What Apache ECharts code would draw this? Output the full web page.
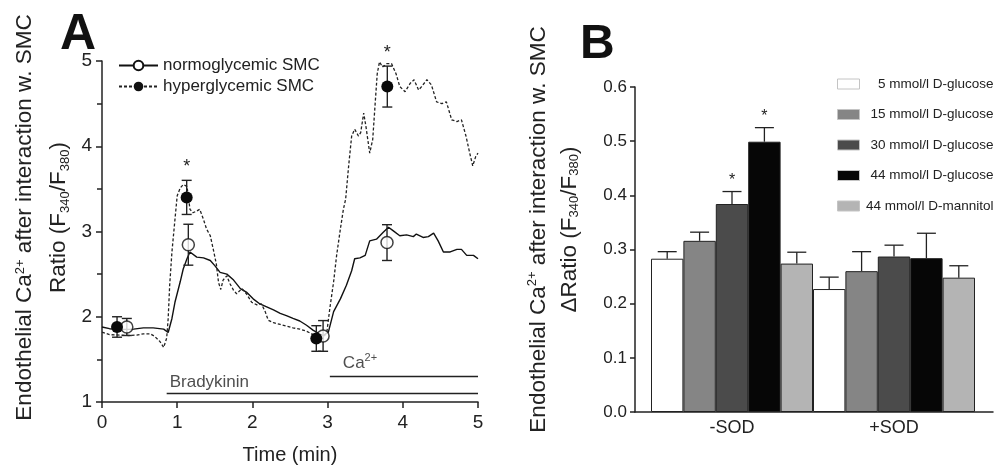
<!DOCTYPE html>
<html>
<head>
<meta charset="utf-8">
<script src="https://cdn.jsdelivr.net/npm/echarts@6/dist/echarts.min.js"></script>
<style>
  html, body { margin: 0; padding: 0; background: #fff; }
  #main { width: 997px; height: 470px; }
</style>
</head>
<body>
<div id="main"></div>
<script>
const FONT = '"Liberation Sans", Arial, sans-serif'
const INK = '#222'

// ---- panel A : Ca2+ traces (time in min, ratio F340/F380)
const normoName = 'normoglycemic SMC'
const hyperName = 'hyperglycemic SMC'
const normoTrace = [[0,1.88],[0.1,1.86],[0.24,1.85],[0.42,1.855],[0.55,1.87],[0.68,1.87],[0.82,1.855],[0.88,1.815],
  [0.93,1.98],[0.97,2.17],[1.04,2.41],[1.08,2.56],[1.13,2.68],[1.17,2.76],[1.26,2.70],[1.35,2.69],[1.44,2.66],
  [1.5,2.60],[1.57,2.52],[1.66,2.50],[1.75,2.43],[1.84,2.33],[1.92,2.29],[2.01,2.21],[2.10,2.15],[2.19,2.115],
  [2.28,2.08],[2.37,2.04],[2.46,2.01],[2.54,1.98],[2.63,1.95],[2.72,1.90],[2.81,1.84],[2.94,1.78],[3.01,1.82],
  [3.08,2.06],[3.17,2.21],[3.25,2.37],[3.32,2.54],[3.36,2.68],[3.43,2.69],[3.50,2.72],[3.56,2.89],[3.65,2.91],
  [3.74,2.99],[3.81,3.05],[3.87,3.01],[3.96,2.95],[4.05,2.96],[4.14,2.94],[4.18,2.97],[4.27,2.93],[4.34,2.94],
  [4.41,2.98],[4.47,2.89],[4.54,2.76],[4.63,2.76],[4.72,2.79],[4.78,2.79],[4.85,2.72],[4.94,2.72],[5.0,2.68]]
const hyperTrace = [[0,1.82],[0.1,1.79],[0.24,1.785],[0.37,1.78],[0.46,1.785],[0.55,1.80],[0.64,1.80],[0.70,1.77],
  [0.77,1.71],[0.82,1.64],[0.86,1.75],[0.88,1.98],[0.90,2.37],[0.93,2.76],[0.97,3.14],[1.0,3.42],[1.04,3.51],
  [1.08,3.55],[1.13,3.53],[1.17,3.26],[1.21,3.22],[1.26,3.24],[1.30,3.26],[1.35,3.14],[1.39,3.03],[1.44,2.95],
  [1.48,2.79],[1.52,2.62],[1.55,2.40],[1.58,2.32],[1.61,2.43],[1.66,2.48],[1.70,2.39],[1.75,2.31],[1.79,2.27],
  [1.86,2.33],[1.92,2.27],[1.99,2.17],[2.06,2.14],[2.12,2.15],[2.17,2.06],[2.21,1.96],[2.28,1.93],[2.37,1.91],
  [2.46,1.89],[2.54,1.87],[2.63,1.855],[2.72,1.83],[2.81,1.79],[2.86,1.77],[2.94,1.75],[2.99,1.82],[3.03,2.10],
  [3.08,2.41],[3.12,2.72],[3.17,3.03],[3.21,3.26],[3.24,3.38],[3.28,3.77],[3.32,4.12],[3.36,4.20],[3.41,4.12],
  [3.44,4.16],[3.48,4.39],[3.51,4.23],[3.56,3.92],[3.60,4.08],[3.63,4.47],[3.66,4.85],[3.69,4.99],[3.73,4.93],
  [3.79,4.97],[3.85,4.97],[3.91,4.85],[3.96,4.70],[4.03,4.64],[4.10,4.74],[4.15,4.78],[4.21,4.66],[4.25,4.70],
  [4.32,4.78],[4.38,4.72],[4.45,4.52],[4.52,4.50],[4.58,4.52],[4.65,4.31],[4.72,4.29],[4.78,4.31],[4.84,4.12],
  [4.89,3.92],[4.93,3.77],[4.97,3.88],[5.0,3.92]]
// [time, mean, error, significant]
const normoPoints = [[0.33,1.88,0.10,0],[1.148,2.845,0.24,0],[2.94,1.775,0.18,0],[3.79,2.87,0.21,0]]
const hyperPoints = [[0.2,1.88,0.12,0],[1.126,3.40,0.20,1],[2.85,1.745,0.15,0],[3.794,4.70,0.24,1]]
const bradykininBar = [[0.86,1.1],[5,1.1]]
const calciumBar = [[3.03,1.3],[5,1.3]]

// ---- panel B : delta ratio bars
const groups = ['-SOD', '+SOD']
const barNames = ['5 mmol/l D-glucose','15 mmol/l D-glucose','30 mmol/l D-glucose','44 mmol/l D-glucose','44 mmol/l D-mannitol']
const barMeans = [[0.283,0.227],[0.316,0.260],[0.384,0.287],[0.499,0.284],[0.274,0.248]]
const barErrors = [[0.013,0.022],[0.016,0.036],[0.023,0.021],[0.026,0.046],[0.021,0.022]]
const barStars = [[0,0],[0,0],[1,0],[1,0],[0,0]]
const barColors = ['#ffffff','#858585','#4b4b4b','#060606','#b4b4b4']

const titleRich = (lh) => ({
  t: {fontSize: 22.5, lineHeight: lh, color: INK, fontFamily: FONT, align: 'center'},
  sup: {fontSize: 13, lineHeight: 13, color: INK, fontFamily: FONT, align: 'center', verticalAlign: 'bottom', padding: [0,0,15,0]},
  sub: {fontSize: 13, lineHeight: 13, color: INK, fontFamily: FONT, align: 'center', verticalAlign: 'bottom', padding: [0,0,4,0]}
})

function renderErrA(params, api) {
  const t = api.value(0), v = api.value(1), e = api.value(2)
  const hi = api.coord([t, v + e]), lo = api.coord([t, v - e])
  const s = {stroke: INK, lineWidth: 1.4}
  const kids = [
    {type: 'line', shape: {x1: hi[0], y1: hi[1], x2: lo[0], y2: lo[1]}, style: s},
    {type: 'line', shape: {x1: hi[0] - 5, y1: hi[1], x2: hi[0] + 5, y2: hi[1]}, style: s},
    {type: 'line', shape: {x1: lo[0] - 5, y1: lo[1], x2: lo[0] + 5, y2: lo[1]}, style: s}
  ]
  if (api.value(3)) {
    kids.push({type: 'text', style: {text: '*', x: hi[0], y: hi[1] - 4, align: 'center', verticalAlign: 'bottom', fontSize: 18, fontFamily: FONT, fill: INK}})
  }
  return {type: 'group', children: kids}
}

function renderErrB(params, api) {
  const g = api.value(0), m = api.value(1), e = api.value(2), k = api.value(3)
  const base = api.coord([g, m])
  const w = api.size([1, 0])[0] / barNames.length
  const x = base[0] + (k - (barNames.length - 1) / 2) * w
  const top = api.coord([g, m + e])[1]
  const s = {stroke: INK, lineWidth: 1.3}
  const kids = [
    {type: 'line', shape: {x1: x, y1: base[1], x2: x, y2: top}, style: s},
    {type: 'line', shape: {x1: x - 9.5, y1: top, x2: x + 9.5, y2: top}, style: s}
  ]
  if (api.value(4)) {
    kids.push({type: 'text', style: {text: '*', x: x, y: top - 3, align: 'center', verticalAlign: 'bottom', fontSize: 16, fontFamily: FONT, fill: INK}})
  }
  return {type: 'group', children: kids}
}

const errBData = []
barNames.forEach((n, i) => {
  groups.forEach((g, j) => { errBData.push([j, barMeans[i][j], barErrors[i][j], i, barStars[i][j]]) })
})

const axisLineStyle = {color: INK, width: 1.5}

const option = {
  animation: false,
  textStyle: {fontFamily: FONT},
  title: [
    {text: 'A', left: 60, top: 10, padding: 0, textStyle: {fontSize: 50, fontWeight: 'bold', color: '#111', lineHeight: 50}},
    {text: 'B', left: 580, top: 21, padding: 0, textStyle: {fontSize: 48, fontWeight: 'bold', color: '#111', lineHeight: 48}}
  ],
  legend: [
    {
      data: [normoName, hyperName], orient: 'vertical', left: 118, top: 57, padding: 0,
      itemWidth: 39, itemHeight: 12, itemGap: 4,
      textStyle: {fontSize: 17, color: INK}
    },
    {
      data: barNames, orient: 'vertical', left: 837, top: 77, padding: 0,
      icon: 'rect', itemWidth: 22, itemHeight: 10, itemGap: 16.5,
      itemStyle: {borderColor: '#c4c4c4', borderWidth: 1},
      formatter: (n) => '{r|' + n + '}',
      textStyle: {fontSize: 13.5, color: INK, rich: {r: {width: 129, align: 'right', fontSize: 13.5, color: INK, fontFamily: FONT}}}
    }
  ],
  grid: [
    {left: 102, top: 61, width: 376, height: 343},
    {left: 635, top: 87, width: 358, height: 325},
    {left: 651, top: 87, width: 324, height: 325}
  ],
  xAxis: [
    {
      gridIndex: 0, type: 'value', min: 0, max: 5, interval: 1,
      axisLine: {lineStyle: axisLineStyle},
      axisTick: {length: 6, lineStyle: axisLineStyle},
      axisLabel: {fontSize: 19, color: INK, margin: 11},
      splitLine: {show: false},
      name: 'Time (min)', nameLocation: 'middle', nameGap: 43,
      nameTextStyle: {fontSize: 20, color: INK}
    },
    {
      gridIndex: 1, type: 'value', min: 0, max: 1,
      axisLine: {lineStyle: axisLineStyle},
      axisTick: {show: false}, axisLabel: {show: false}, splitLine: {show: false}
    },
    {
      gridIndex: 2, type: 'category', data: groups,
      axisLine: {show: false}, axisTick: {show: false},
      axisLabel: {fontSize: 18, color: INK, margin: 7}
    }
  ],
  yAxis: [
    {
      gridIndex: 0, type: 'value', min: 1, max: 5, interval: 1,
      axisLine: {show: true, lineStyle: axisLineStyle},
      axisTick: {show: true, length: 6, lineStyle: axisLineStyle},
      minorTick: {show: true, splitNumber: 2, length: 5, lineStyle: axisLineStyle},
      axisLabel: {fontSize: 19, color: INK, margin: 10},
      splitLine: {show: false},
      name: '{t|Endothelial Ca}{sup|2+}{t| after interaction w. SMC}\n{t|Ratio (F}{sub|340}{t|/F}{sub|380}{t|)}',
      nameLocation: 'middle', nameRotate: 90, nameGap: 26,
      nameTextStyle: {padding: [0, 0, 0, 28], rich: titleRich(34)}
    },
    {
      gridIndex: 1, type: 'value', min: 0, max: 0.6, interval: 0.1,
      axisLine: {show: true, lineStyle: axisLineStyle},
      axisTick: {show: true, length: 5, lineStyle: axisLineStyle},
      axisLabel: {fontSize: 17, color: INK, margin: 8, formatter: (v) => v.toFixed(1)},
      splitLine: {show: false},
      name: '{t|Endothelial Ca}{sup|2+}{t| after interaction w. SMC}\n{t|ΔRatio (F}{sub|340}{t|/F}{sub|380}{t|)}',
      nameLocation: 'middle', nameRotate: 90, nameGap: 50,
      nameTextStyle: {padding: [0, 0, 0, 40], rich: titleRich(31)}
    },
    {gridIndex: 2, type: 'value', min: 0, max: 0.6, show: false}
  ],
  series: [
    {
      name: normoName, type: 'line', xAxisIndex: 0, yAxisIndex: 0, data: normoTrace,
      showSymbol: false, symbol: 'circle', symbolSize: 11,
      lineStyle: {color: '#111', width: 1.4},
      itemStyle: {color: '#fff', borderColor: '#111', borderWidth: 1.5}
    },
    {
      name: hyperName, type: 'line', xAxisIndex: 0, yAxisIndex: 0, data: hyperTrace,
      showSymbol: false, symbol: 'circle', symbolSize: 11,
      lineStyle: {color: '#222', width: 1.3, type: [3, 2]},
      itemStyle: {color: '#111'}
    },
    {
      type: 'line', xAxisIndex: 0, yAxisIndex: 0, data: bradykininBar, symbol: 'none',
      lineStyle: {color: INK, width: 1.5}
    },
    {
      type: 'line', xAxisIndex: 0, yAxisIndex: 0, data: calciumBar, symbol: 'none',
      lineStyle: {color: INK, width: 1.5}
    },
    {
      type: 'scatter', xAxisIndex: 0, yAxisIndex: 0, symbolSize: 1, itemStyle: {color: 'transparent'},
      data: [
        {value: bradykininBar[0], label: {show: true, position: 'top', align: 'left', distance: 2, offset: [3, 0], formatter: 'Bradykinin', fontSize: 17, color: INK}},
        {value: calciumBar[0], label: {show: true, position: 'top', align: 'left', distance: 4, offset: [13, 0], formatter: '{a|Ca}{s|2+}',
          rich: {a: {fontSize: 17, color: INK, fontFamily: FONT, verticalAlign: 'bottom'},
                 s: {fontSize: 11, color: INK, fontFamily: FONT, verticalAlign: 'bottom', padding: [0, 0, 8, 0]}}}}
      ]
    },
    {
      type: 'custom', xAxisIndex: 0, yAxisIndex: 0, renderItem: renderErrA, z: 4,
      data: normoPoints.concat(hyperPoints), encode: {x: 0, y: 1}
    },
    {
      type: 'scatter', xAxisIndex: 0, yAxisIndex: 0, z: 5, symbolSize: 12,
      itemStyle: {color: '#fff', borderColor: '#111', borderWidth: 1.5},
      data: normoPoints.map(p => [p[0], p[1]])
    },
    {
      type: 'scatter', xAxisIndex: 0, yAxisIndex: 0, z: 5, symbolSize: 12,
      itemStyle: {color: '#0a0a0a', opacity: 1},
      data: hyperPoints.map(p => [p[0], p[1]])
    }
  ].concat(barNames.map((n, i) => ({
    name: n, type: 'bar', xAxisIndex: 2, yAxisIndex: 2, data: barMeans[i],
    barGap: '0%', barCategoryGap: '0%',
    itemStyle: {color: barColors[i], borderColor: '#222', borderWidth: 1}
  }))).concat([{
    type: 'custom', xAxisIndex: 2, yAxisIndex: 2, renderItem: renderErrB, z: 4,
    data: errBData, encode: {x: 0, y: 1}
  }])
}

const chart = echarts.init(document.getElementById('main'))
chart.setOption(option)
</script>
</body>
</html>
